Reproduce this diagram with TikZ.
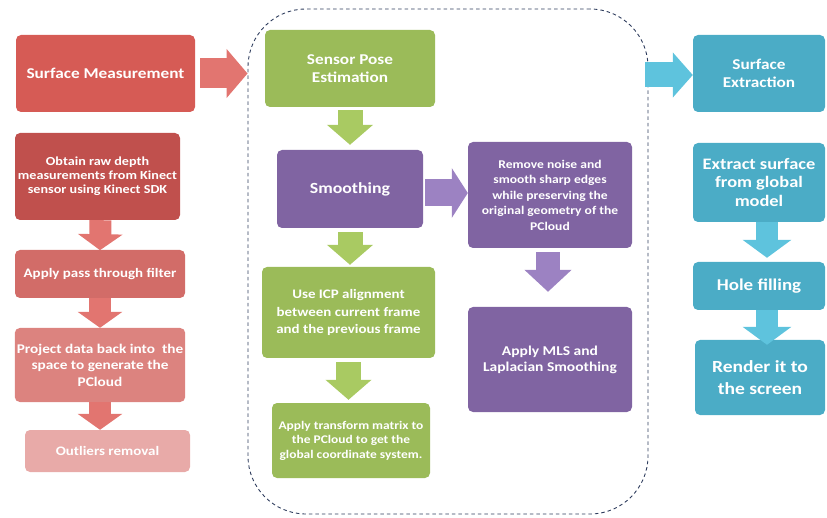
\documentclass[tikz,border=0pt]{standalone}
\usepackage{fontspec}
\setmainfont[FakeStretch=1.15]{Carlito}
\usetikzlibrary{arrows.meta,calc}
\definecolor{redT}{HTML}{D65B55}
\definecolor{redA}{HTML}{C0504D}
\definecolor{redB}{HTML}{D26C68}
\definecolor{redC}{HTML}{DC837F}
\definecolor{redD}{HTML}{E8AAA8}
\definecolor{redArr}{HTML}{E27570}
\definecolor{grn}{HTML}{9BBB59}
\definecolor{grnArr}{HTML}{A9CA62}
\definecolor{pur}{HTML}{8064A2}
\definecolor{purArr}{HTML}{9C82C2}
\definecolor{blu}{HTML}{4BACC6}
\definecolor{bluArr}{HTML}{5EC3DD}
\definecolor{dash}{HTML}{2F3D5E}
\begin{document}
\begin{tikzpicture}[x=1pt,y=-1pt,
  box/.style={rounded corners=5pt, text=white, align=center, inner sep=2pt},
  fs/.style 2 args={font=\bfseries\fontsize{#1}{#2}\selectfont},
  blockarrow/.style n args={5}{draw=#1, line width=#2, -{Triangle[width=#3,length=#4,fill=#5,color=#5]}}]
\useasboundingbox (0,0) rectangle (827,518);
% dashed group
\node[draw=dash, line width=0.9pt, dash pattern=on 3.5pt off 3pt, rounded corners=58pt,
  minimum width=400pt, minimum height=505pt] (group) at (448,261.5) {};
% red column
\node[box, fs={15}{18}, fill=redT, minimum width=179pt, minimum height=77pt] (sm) at (105.5,73.5)
  {Surface Measurement};
\node[box, fs={12.3}{13.8}, fill=redA, minimum width=165pt, minimum height=87pt] (obtain) at (97.5,176.5)
  {Obtain raw depth\\measurements from Kinect\\sensor using Kinect SDK};
\node[box, fs={13}{16}, fill=redB, minimum width=170pt, minimum height=48pt] (pass) at (100,274)
  {Apply pass through filter};
\node[box, fs={13.3}{16.5}, fill=redC, minimum width=170pt, minimum height=74pt] (project) at (100,365)
  {Project data back into\ \ the\\space to generate the\\PCloud};
\node[box, fs={13}{16}, fill=redD, minimum width=165pt, minimum height=42pt] (outliers) at (107.5,451)
  {Outliers removal};
% green / purple
\node[box, fs={15}{18}, fill=grn, minimum width=170pt, minimum height=77pt] (sensor) at (350,68.5)
  {Sensor Pose\\Estimation};
\node[box, fs={15.5}{18}, fill=pur, minimum width=146pt, minimum height=78pt] (smooth) at (350,189)
  {Smoothing};
\node[box, fs={11.8}{15.5}, fill=pur, minimum width=164pt, minimum height=106pt] (remove) at (550,195)
  {Remove noise and\\smooth sharp edges\\while preserving the\\original geometry of the\\PCloud};
\node[box, fs={13}{17.5}, fill=grn, minimum width=173pt, minimum height=91pt] (icp) at (348.5,312.5)
  {Use ICP alignment\\between current frame\\and the previous frame};
\node[box, fs={11.7}{14.5}, fill=grn, minimum width=158pt, minimum height=75pt] (transform) at (351,440.5)
  {Apply transform matrix to\\the PCloud to get the\\global coordinate system.};
\node[box, fs={13.5}{16}, fill=pur, minimum width=164pt, minimum height=105pt] (mls) at (550,359.5)
  {Apply MLS and\\Laplacian Smoothing};
% blue
\node[box, fs={15}{18}, fill=blu, minimum width=132pt, minimum height=77pt] (se) at (759,73.5)
  {Surface\\Extraction};
\node[box, fs={16}{18.5}, fill=blu, minimum width=132pt, minimum height=79pt] (extract) at (759,182.5)
  {Extract surface\\from global\\model};
\node[box, fs={16.5}{19}, fill=blu, minimum width=132pt, minimum height=48pt] (hole) at (759,286)
  {Hole filling};
\node[box, fs={17}{21.5}, fill=blu, minimum width=130pt, minimum height=75pt] (render) at (760,377.5)
  {Render it to\\the screen};
% arrows
\draw[blockarrow={redArr}{30pt}{48pt}{21pt}{redArr}] ($(sm.east)+(5,0)$) -- (group.west |- sm.east);
\draw[blockarrow={redArr}{22pt}{44pt}{16pt}{redArr}] ($(obtain.south)+(3,0)$) -- ($(obtain.south -| pass.north)+(0,30)$);
\draw[blockarrow={redArr}{22pt}{44pt}{16pt}{redArr}] (pass.south) -- (project.north);
\draw[blockarrow={redArr}{22pt}{44pt}{16pt}{redArr}] (project.south) -- (project.south |- outliers.north);
\draw[blockarrow={grnArr}{25pt}{45pt}{20pt}{grnArr}] ($(sensor.south)+(0,3)$) -- ($(smooth.north)+(0,-5)$);
\draw[blockarrow={grnArr}{25pt}{45pt}{20pt}{grnArr}] ($(smooth.south)+(0,4)$) -- ($(smooth.south |- icp.north)+(0,-2)$);
\draw[blockarrow={grnArr}{25pt}{45pt}{20pt}{grnArr}] ($(icp.south)+(0,4)$) -- ($(icp.south |- transform.north)+(0,-3)$);
\draw[blockarrow={purArr}{27pt}{49pt}{16pt}{purArr}] ($(smooth.east)+(2,4)$) -- ($(remove.west |- smooth.east)+(0,4)$);
\draw[blockarrow={purArr}{24pt}{46pt}{22pt}{purArr}] ($(remove.south)+(-2,4)$) -- ($(mls.north)+(-2,-15)$);
\draw[blockarrow={bluArr}{25pt}{44pt}{20pt}{bluArr}] ($(group.east |- se.west)+(-3,1.5)$) -- ($(se.west)+(0,1.5)$);
\draw[blockarrow={bluArr}{22pt}{48pt}{18pt}{bluArr}] ($(extract.south)+(8,0)$) -- ($(extract.south |- hole.north)+(8,-4)$);
\draw[blockarrow={bluArr}{22pt}{48pt}{18pt}{bluArr}] ($(hole.south)+(8,0)$) -- ($(hole.south |- render.north)+(8,5)$);
\end{tikzpicture}
\end{document}
